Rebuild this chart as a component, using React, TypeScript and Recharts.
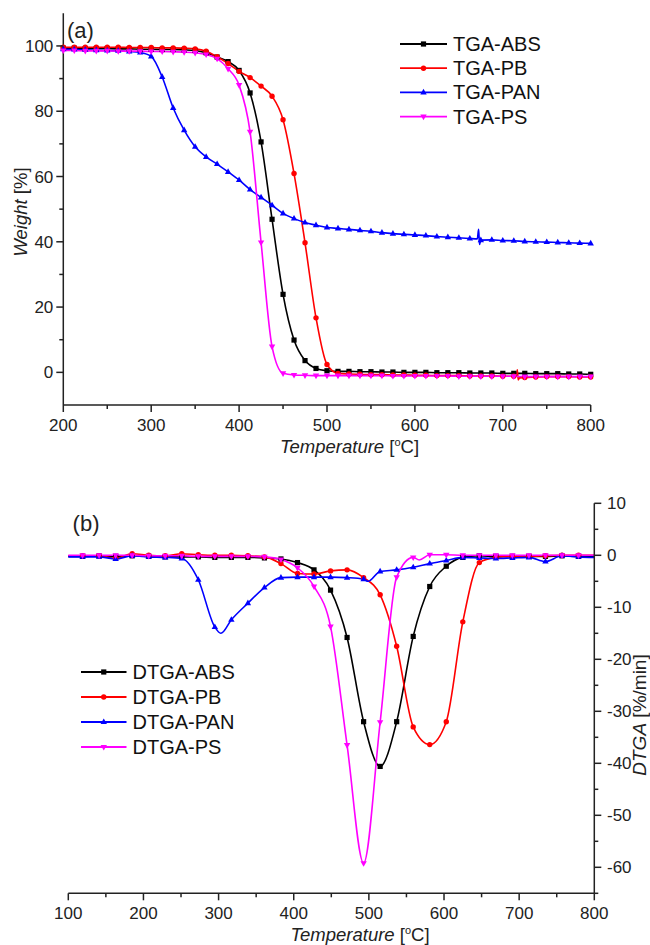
import React from "react";
import { Legend, Line, LineChart, XAxis, YAxis } from "recharts";

// ---- (a) TGA, weight [%] every 12.5 °C (one marker per point)
const tgaTemps = [
  200, 212.5, 225, 237.5, 250, 262.5, 275, 287.5, 300, 312.5, 325, 337.5, 350,
  362.5, 375, 387.5, 400, 412.5, 425, 437.5, 450, 462.5, 475, 487.5, 500,
  512.5, 525, 537.5, 550, 562.5, 575, 587.5, 600, 612.5, 625, 637.5, 650,
  662.5, 675, 687.5, 700, 712.5, 725, 737.5, 750, 762.5, 775, 787.5, 800,
];
const tgaAbs = [
  99.3, 99.3, 99.2, 99.2, 99.2, 99.1, 99.1, 99.0, 99.0, 98.9, 98.9, 98.8, 98.6,
  97.9, 96.6, 95.2, 92.5, 85.6, 70.6, 46.9, 23.9, 9.9, 3.6, 1.2, 0.5,
  0.3, 0.3, 0.2, 0.2, 0.1, 0.1, 0.0, 0.0, 0.0, -0.1, -0.1, -0.1,
  -0.2, -0.2, -0.2, -0.3, -0.3, -0.3, -0.4, -0.4, -0.4, -0.5, -0.5, -0.6,
];
const tgaPb = [
  99.6, 99.6, 99.6, 99.6, 99.6, 99.6, 99.5, 99.5, 99.5, 99.4, 99.4, 99.3, 99.1,
  98.4, 96.7, 94.6, 92.2, 90.3, 87.7, 84.6, 77.4, 60.9, 39.7, 16.7, 2.4,
  -0.3, -0.5, -0.6, -0.7, -0.7, -0.8, -0.8, -0.9, -0.9, -1.0, -1.0, -1.0,
  -1.1, -1.1, -1.1, -1.2, -1.2, -1.6, -1.4, -1.3, -1.3, -1.3, -1.4, -1.4,
];
const tgaPan = [
  99.0, 98.9, 98.8, 98.7, 98.6, 98.5, 98.3, 98.0, 96.8, 90.5, 81.0, 74.2, 69.1,
  66.0, 63.8, 61.4, 58.9, 56.0, 53.6, 51.2, 48.7, 47.1, 45.9, 45.1, 44.4,
  44.1, 43.8, 43.5, 43.2, 42.8, 42.5, 42.3, 42.1, 41.9, 41.6, 41.4, 41.2,
  41.0, 40.5, 40.6, 40.4, 40.3, 40.1, 40.0, 39.9, 39.8, 39.7, 39.6, 39.5,
];
const tgaPs = [
  98.6, 98.6, 98.5, 98.5, 98.5, 98.4, 98.4, 98.4, 98.3, 98.3, 98.2, 98.1, 97.9,
  97.4, 96.1, 93.0, 88.0, 73.7, 39.8, 7.9, -0.3, -0.8, -0.9, -1.0, -1.0,
  -1.0, -1.0, -1.0, -1.0, -1.0, -1.1, -1.1, -1.1, -1.1, -1.1, -1.1, -1.2,
  -1.2, -1.2, -1.2, -1.2, -1.2, -1.3, -1.3, -1.3, -1.3, -1.3, -1.3, -1.3,
];
// spikes in the raw curves (no marker)
const tgaPanGlitch = [[671, 40.9], [672.5, 43.8], [673.5, 39.2]];
const tgaPbGlitch = [[715.5, -1.2], [716.5, 0.8], [717.5, -2.3], [719, -1.7]];

// ---- (b) DTGA [%/min]
const dtgaTemps = [
  100, 119, 141, 163, 185, 207, 229, 251, 273, 295, 317, 339, 361, 383, 405, 427,
  449, 471, 493, 515, 537, 559, 581, 603, 625, 647, 669, 691, 713, 735, 757, 779, 800,
];
const dtgaAbs = [
  -0.2, -0.2, -0.1, -0.2, -0.1, -0.2, -0.3, -0.3, -0.3, -0.4, -0.4, -0.4, -0.5, -0.7, -1.4, -2.8,
  -6.7, -15.8, -32.0, -40.6, -32.0, -15.6, -6.0, -2.1, -0.4, -0.1, -0.2, -0.2, -0.2, -0.2, -0.1, -0.2, -0.2,
];
const dtgaPb = [
  -0.1, -0.1, -0.1, -0.6, 0.3, 0.0, -0.1, 0.3, 0.1, 0.0, 0.0, -0.1, -0.3, -1.6, -3.5, -3.6,
  -3.0, -2.8, -4.3, -7.6, -17.5, -33.0, -36.4, -32.0, -12.8, -1.4, -0.4, -0.2, -0.2, -0.1, 0.0, 0.0, 0.0,
];
const dtgaPan = [
  -0.3, -0.3, -0.3, -0.7, -0.1, -0.3, -0.4, -0.6, -4.7, -13.8, -12.4, -9.2, -6.2, -4.3, -4.2, -4.2,
  -4.2, -4.3, -4.6, -3.1, -2.8, -2.3, -1.6, -1.0, -0.4, -0.5, -0.6, -0.5, -0.4, -1.2, -0.1, -0.3, -0.4,
];
const dtgaPs = [
  0.0, 0.0, 0.0, 0.0, 0.0, -0.1, -0.1, -0.1, -0.2, -0.2, -0.2, -0.2, -0.3, -0.8, -2.4, -6.0,
  -13.7, -36.5, -59.2, -32.1, -4.2, -0.4, 0.1, 0.1, 0.0, 0.0, 0.0, 0.0, 0.0, 0.0, 0.0, 0.0, 0.0,
];
const dtgaPanExtra = [[303, -15.0], [499, -5.0]];
const dtgaPsExtra = [[567, -0.9]];
const dtgaMarked = dtgaTemps.slice(1, -1);

const tgaXTicks = [200, 250, 300, 350, 400, 450, 500, 550, 600, 650, 700, 750, 800];
const tgaYTicks = [0, 10, 20, 30, 40, 50, 60, 70, 80, 90, 100];
const dtgaXTicks = [100, 150, 200, 250, 300, 350, 400, 450, 500, 550, 600, 650, 700, 750, 800];
const dtgaYTicks = [-65, -60, -55, -50, -45, -40, -35, -30, -25, -20, -15, -10, -5, 0, 5, 10];

const tgaNames = ["TGA-ABS", "TGA-PB", "TGA-PAN", "TGA-PS"];
const dtgaNames = ["DTGA-ABS", "DTGA-PB", "DTGA-PAN", "DTGA-PS"];

const FONT = "'Liberation Sans', Arial, Helvetica, sans-serif";
const AXIS = "#222";
const COLORS = ["#000000", "#ff0000", "#0000ff", "#ff00ff"];
const SHAPE_LIST = ["square", "circle", "up", "down"];

type Row = { t: number; v: number; mark: boolean };

function buildSeries(temps: number[], values: number[], extra: number[][] = [], marked: number[] = temps): Row[] {
  const rows = temps.map((t, i) => ({ t, v: values[i], mark: marked.includes(t) }));
  extra.forEach(([t, v]) => rows.push({ t, v, mark: false }));
  return rows.sort((a, b) => a.t - b.t);
}

function Marker({ shape, x, y, color }: { shape: string; x: number; y: number; color: string }) {
  if (shape === "square") return <rect x={x - 2.6} y={y - 2.6} width={5.2} height={5.2} fill={color} />;
  if (shape === "circle") return <circle cx={x} cy={y} r={2.7} fill={color} />;
  if (shape === "up") return <path d={`M${x},${y - 3.6}L${x + 3.2},${y + 2}L${x - 3.2},${y + 2}Z`} fill={color} />;
  return <path d={`M${x},${y + 3.6}L${x + 3.2},${y - 2}L${x - 3.2},${y - 2}Z`} fill={color} />;
}

const makeDot = (shape: string, color: string) => (props: any) => {
  const { cx, cy, payload, index } = props;
  if (!payload || !payload.mark || cx == null || cy == null) return <g key={`d${index}`} />;
  return (
    <g key={`d${index}`}>
      <Marker shape={shape} x={cx} y={cy} color={color} />
    </g>
  );
};

function LegendBox({ payload, names, lineLen, rowGap }: any) {
  // keep the order of the series, not the alphabetical one
  const rows = [...(payload || [])].sort((a: any, b: any) => names.indexOf(a.value) - names.indexOf(b.value));
  return (
    <svg width={230} height={rows.length * rowGap + 10} style={{ overflow: "visible" }}>
      {rows.map((p: any) => {
        const i = names.indexOf(p.value);
        const y = 12 + i * rowGap;
        return (
          <g key={p.value}>
            <line x1={0} x2={lineLen} y1={y} y2={y} stroke={p.color} strokeWidth={1.8} />
            <Marker shape={SHAPE_LIST[i]} x={lineLen / 2} y={y} color={p.color} />
            <text x={lineLen + 6} y={y + 7} fontSize={20} fontFamily={FONT} fill="#111">
              {p.value}
            </text>
          </g>
        );
      })}
    </svg>
  );
}

function XTick({ x, y, payload }: any) {
  const major = payload.value % 100 === 0;
  return (
    <g>
      <line x1={x} x2={x} y1={y} y2={y + (major ? 7 : 4)} stroke={AXIS} strokeWidth={1.5} />
      {major && (
        <text x={x} y={y + 26} textAnchor="middle" fontSize={17} fontFamily={FONT} fill="#222">
          {payload.value}
        </text>
      )}
    </g>
  );
}

function TgaYTick({ x, y, payload }: any) {
  const major = payload.value % 20 === 0;
  return (
    <g>
      <line x1={x - (major ? 7 : 4)} x2={x} y1={y} y2={y} stroke={AXIS} strokeWidth={1.5} />
      {major && (
        <text x={x - 10} y={y + 6} textAnchor="end" fontSize={17} fontFamily={FONT} fill="#222">
          {payload.value}
        </text>
      )}
    </g>
  );
}

function DtgaYTick({ x, y, payload }: any) {
  const major = payload.value % 10 === 0;
  return (
    <g>
      <line x1={x} x2={x + (major ? 7 : 4)} y1={y} y2={y} stroke={AXIS} strokeWidth={1.5} />
      {major && (
        <text x={x + 12.7} y={y + 6} textAnchor="start" fontSize={17} fontFamily={FONT} fill="#222">
          {payload.value}
        </text>
      )}
    </g>
  );
}

const lineProps = {
  type: "monotone" as const,
  dataKey: "v",
  strokeWidth: 1.6,
  isAnimationActive: false,
  activeDot: false as const,
};

function TgaChart() {
  const series = [
    buildSeries(tgaTemps, tgaAbs),
    buildSeries(tgaTemps, tgaPb, tgaPbGlitch),
    buildSeries(tgaTemps, tgaPan, tgaPanGlitch),
    buildSeries(tgaTemps, tgaPs),
  ];
  return (
    <LineChart width={650} height={450} margin={{ top: 13.3, right: 59.3, bottom: 15, left: 13.3 }}>
      <XAxis xAxisId="x" dataKey="t" type="number" domain={[200, 800]} ticks={tgaXTicks} interval={0}
        tick={<XTick />} tickLine={false} tickSize={0} tickMargin={0} height={30}
        axisLine={{ stroke: AXIS, strokeWidth: 1.5 }} />
      <XAxis xAxisId="top" orientation="top" type="number" domain={[200, 800]} tick={false} tickLine={false}
        height={0} axisLine={{ stroke: AXIS, strokeWidth: 1.5 }} />
      <YAxis yAxisId="y" type="number" domain={[-10, 110]} ticks={tgaYTicks} interval={0}
        tick={<TgaYTick />} tickLine={false} tickSize={0} tickMargin={0} width={50}
        axisLine={{ stroke: AXIS, strokeWidth: 1.5 }} />
      <YAxis yAxisId="right" orientation="right" type="number" domain={[-10, 110]} tick={false} tickLine={false}
        width={0} axisLine={{ stroke: AXIS, strokeWidth: 1.5 }} />
      <Legend layout="vertical" align="center" verticalAlign="middle"
        wrapperStyle={{ left: 400, top: 32, width: 230, height: 110 }}
        content={(p: any) => <LegendBox payload={p.payload} names={tgaNames} lineLen={47} rowGap={24.2} />} />
      {series.map((data, i) => (
        <Line key={tgaNames[i]} {...lineProps} xAxisId="x" yAxisId="y" name={tgaNames[i]} data={data}
          stroke={COLORS[i]} dot={makeDot(SHAPE_LIST[i], COLORS[i])} />
      ))}
    </LineChart>
  );
}

function DtgaChart() {
  const series = [
    buildSeries(dtgaTemps, dtgaAbs, [], dtgaMarked),
    buildSeries(dtgaTemps, dtgaPb, [], dtgaMarked),
    buildSeries(dtgaTemps, dtgaPan, dtgaPanExtra, dtgaMarked),
    buildSeries(dtgaTemps, dtgaPs, dtgaPsExtra, dtgaMarked),
  ];
  return (
    <LineChart width={650} height={475} margin={{ top: 33.3, right: 15.7, bottom: 21.7, left: 68.3 }}>
      <XAxis xAxisId="x" dataKey="t" type="number" domain={[100, 800]} ticks={dtgaXTicks} interval={0}
        tick={<XTick />} tickLine={false} tickSize={0} tickMargin={0} height={30}
        axisLine={{ stroke: AXIS, strokeWidth: 1.5 }} />
      <XAxis xAxisId="top" orientation="top" type="number" domain={[100, 800]} tick={false} tickLine={false}
        height={0} axisLine={{ stroke: AXIS, strokeWidth: 1.5 }} />
      <YAxis yAxisId="left" type="number" domain={[-65, 10]} tick={false} tickLine={false}
        width={0} axisLine={{ stroke: AXIS, strokeWidth: 1.5 }} />
      <YAxis yAxisId="y" orientation="right" type="number" domain={[-65, 10]} ticks={dtgaYTicks} interval={0}
        tick={<DtgaYTick />} tickLine={false} tickSize={0} tickMargin={0} width={40}
        axisLine={{ stroke: AXIS, strokeWidth: 1.5 }} />
      <Legend layout="vertical" align="center" verticalAlign="middle"
        wrapperStyle={{ left: 81, top: 189.7, width: 230, height: 110 }}
        content={(p: any) => <LegendBox payload={p.payload} names={dtgaNames} lineLen={45.5} rowGap={25} />} />
      {series.map((data, i) => (
        <Line key={dtgaNames[i]} {...lineProps} xAxisId="x" yAxisId="y" name={dtgaNames[i]} data={data}
          stroke={COLORS[i]} dot={makeDot(SHAPE_LIST[i], COLORS[i])} />
      ))}
    </LineChart>
  );
}

function TempTitle({ x, y }: { x: number; y: number }) {
  return (
    <text x={x} y={y} textAnchor="middle" fontSize={18.5} fontFamily={FONT} fill="#222">
      <tspan fontStyle="italic">Temperature</tspan>
      <tspan> [</tspan>
      <tspan fontSize={11} dy={-7}>o</tspan>
      <tspan dy={7}>C]</tspan>
    </text>
  );
}

export default function App() {
  return (
    <div style={{ position: "absolute", left: 0, top: 0, width: 650, height: 945, background: "#fff", fontFamily: FONT }}>
      <div style={{ position: "absolute", left: 0, top: 0 }}>
        <TgaChart />
      </div>
      <div style={{ position: "absolute", left: 0, top: 470 }}>
        <DtgaChart />
      </div>
      <svg width={650} height={945} style={{ position: "absolute", left: 0, top: 0, pointerEvents: "none" }}>
        <text x={67} y={38} fontSize={22} fontFamily={FONT} fill="#222">(a)</text>
        <text x={72.6} y={531} fontSize={22} fontFamily={FONT} fill="#222">(b)</text>
        <TempTitle x={349.5} y={453} />
        <TempTitle x={360} y={941} />
        <text transform="translate(21,212) rotate(-90)" textAnchor="middle" dy="0.35em" fontSize={18.5}
          fontFamily={FONT} fill="#222">
          <tspan fontStyle="italic">Weight</tspan>
          <tspan> [%]</tspan>
        </text>
        <text transform="translate(639,715) rotate(-90)" textAnchor="middle" dy="0.35em" fontSize={19}
          fontFamily={FONT} fill="#222">
          <tspan fontStyle="italic">DTGA</tspan>
          <tspan> [%/min]</tspan>
        </text>
      </svg>
    </div>
  );
}
